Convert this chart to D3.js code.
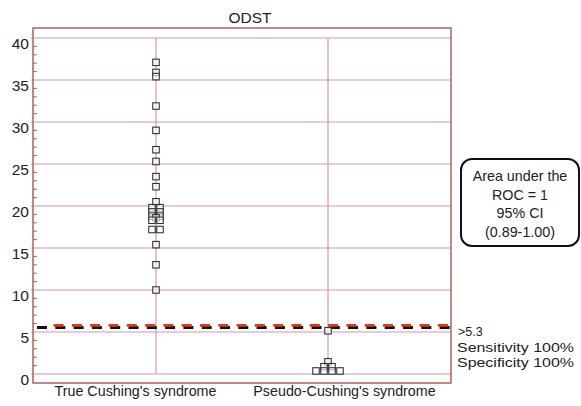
<!DOCTYPE html>
<html><head><meta charset="utf-8">
<script src="https://cdn.jsdelivr.net/npm/d3@7"></script>
<style>
html,body{margin:0;padding:0;background:#fff;}
svg{display:block;font-family:"Liberation Sans",Arial,sans-serif;}
</style></head>
<body>
<svg id="chart" width="581" height="406"></svg>
<script>
const title = "ODST";
const categories = ["True Cushing's syndrome", "Pseudo-Cushing's syndrome"];
const trueCushing = [37.1, 35.9, 35.4, 31.9, 29.0, 26.7, 25.3, 23.5, 22.3, 20.5,
  19.8, 19.8, 19.3, 19.3, 18.8, 18.8, 18.6, 18.3, 18.3, 17.2, 17.2, 15.4, 13.0, 10.0];
const pseudoCushing = [5.15, 1.45, 0.87, 0.87, 0.36, 0.36, 0.36, 0.36];
const yTicks = [0, 5, 10, 15, 20, 25, 30, 35, 40];
const cutoff = 5.3;
const cutoffLine = 5.55;
const cutoffLabels = [">5.3", "Sensitivity 100%", "Specificity 100%"];
const rocLabels = ["Area under the", "ROC = 1", "95% CI", "(0.89-1.00)"];

const svg = d3.select("#chart");
const frame = {left: 33, right: 451, top: 28, bottom: 383};
const y = d3.scaleLinear().domain([0, 40]).range([374, 38]);
const xPoint = d3.scalePoint().domain(categories).range([frame.left, frame.right]).padding(0.715);
const xBand = d3.scaleBand().domain(categories).range([frame.left, frame.right]).padding(0);

const gridColor = "#d49aa4";
const frameColor = "#b0605e";

// horizontal gridlines
svg.append("g").selectAll("line").data(yTicks).join("line")
  .attr("x1", frame.left - 2).attr("x2", frame.right)
  .attr("y1", d => y(d)).attr("y2", d => y(d))
  .attr("stroke", gridColor).attr("stroke-width", 1.2);

// vertical category lines
svg.append("g").selectAll("line").data(categories).join("line")
  .attr("x1", d => xPoint(d)).attr("x2", d => xPoint(d))
  .attr("y1", y(40)).attr("y2", y(0))
  .attr("stroke", gridColor).attr("stroke-width", 1.2);

// minor ticks
const minor = d3.range(0, 41, 1).filter(v => v % 5 !== 0);
svg.append("g").selectAll("line").data(minor).join("line")
  .attr("x1", frame.left).attr("x2", frame.left + 4)
  .attr("y1", d => y(d)).attr("y2", d => y(d))
  .attr("stroke", frameColor).attr("stroke-width", 1);

// frame
svg.append("rect")
  .attr("x", frame.left).attr("y", frame.top)
  .attr("width", frame.right - frame.left).attr("height", frame.bottom - frame.top)
  .attr("fill", "none").attr("stroke", frameColor).attr("stroke-width", 1.5);

// y tick labels (hang below tick)
svg.append("g").selectAll("text").data(yTicks).join("text")
  .attr("x", 29).attr("y", d => y(d) + 11)
  .attr("text-anchor", "end").attr("font-size", 15.5).attr("fill", "#222")
  .text(d => d);

// title
svg.append("text").attr("x", 250).attr("y", 23)
  .attr("text-anchor", "middle").attr("font-size", 15.5).attr("fill", "#222")
  .text(title);

// category labels
svg.append("g").selectAll("text").data(categories).join("text")
  .attr("x", d => xBand(d) + xBand.bandwidth() / 2 - 2).attr("y", 396)
  .attr("text-anchor", "middle").attr("font-size", 14.3).attr("fill", "#222")
  .text(d => d);

// cutoff dashed lines
svg.append("line")
  .attr("x1", frame.left + 4).attr("x2", frame.right + 4)
  .attr("y1", y(cutoffLine)).attr("y2", y(cutoffLine))
  .attr("stroke", "#111").attr("stroke-width", 3).attr("stroke-dasharray", "10,8.3");
svg.append("line")
  .attr("x1", frame.left + 20.6).attr("x2", frame.right + 5)
  .attr("y1", y(cutoffLine) - 2).attr("y2", y(cutoffLine) - 2)
  .attr("stroke", "#e0381a").attr("stroke-width", 2.6).attr("stroke-dasharray", "10,8.3");

// points: identical values placed side by side, centered on category
function layout(values, cat) {
  const groups = d3.groups(values, v => v);
  const pts = [];
  const spacing = 8;
  groups.forEach(([v, arr]) => {
    const n = arr.length;
    arr.forEach((_, i) => pts.push({v, x: xPoint(cat) + (i - (n - 1) / 2) * spacing}));
  });
  return pts;
}
const pts = layout(trueCushing, categories[0]).concat(layout(pseudoCushing, categories[1]));
const ms = 6.5;
svg.append("g").selectAll("rect").data(pts).join("rect")
  .attr("x", d => d.x - ms / 2).attr("y", d => y(d.v) - ms / 2)
  .attr("width", ms).attr("height", ms)
  .attr("fill", "#fff").attr("fill-opacity", 0.6)
  .attr("stroke", "#333").attr("stroke-width", 1.1);

// cutoff labels
svg.append("text").attr("x", 458).attr("y", 336).attr("font-size", 12.5).attr("fill", "#222").text(cutoffLabels[0]);
[cutoffLabels[1], cutoffLabels[2]].forEach((t, i) => {
  svg.append("text").attr("x", 457).attr("y", 352 + i * 14.5)
    .attr("font-size", 13.5).attr("textLength", 117).attr("lengthAdjust", "spacingAndGlyphs")
    .attr("fill", "#222").text(t);
});

// ROC box
svg.append("rect").attr("x", 461).attr("y", 159).attr("width", 118).attr("height", 87)
  .attr("rx", 11).attr("fill", "#fff").attr("stroke", "#111").attr("stroke-width", 2);
svg.append("g").selectAll("text").data(rocLabels).join("text")
  .attr("x", 520).attr("y", (d, i) => 181 + i * 18.5)
  .attr("text-anchor", "middle").attr("font-size", 14.3).attr("fill", "#222")
  .text(d => d);
</script>
</body></html>
